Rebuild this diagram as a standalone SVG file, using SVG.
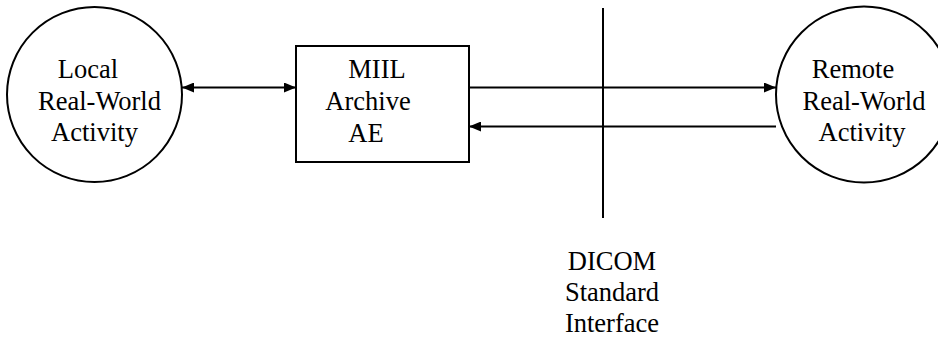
<svg xmlns="http://www.w3.org/2000/svg" width="938" height="339" viewBox="0 0 938 339">
<style>
.s{fill:none;stroke:#000;stroke-width:2}
.t{font-family:"Liberation Serif","Times New Roman",serif;font-size:26.5px;fill:#000;text-anchor:middle}
</style>
<defs>
<marker id="ah" viewBox="0 0 12 10" refX="12" refY="5" markerWidth="12" markerHeight="10" markerUnits="userSpaceOnUse" orient="auto-start-reverse">
<path d="M0,0 L12,5 L0,10 Z" fill="#000"/>
</marker>
</defs>
<rect width="938" height="339" fill="#fff"/>
<g id="local">
<circle class="s" cx="94.5" cy="94.5" r="87.5"/>
<text class="t" x="88" y="78">Local</text>
<text class="t" x="99.5" y="110">Real-World</text>
<text class="t" x="94.5" y="141">Activity</text>
</g>
<g id="miil">
<rect class="s" x="296" y="46" width="173" height="116"/>
<text class="t" x="377" y="78">MIIL</text>
<text class="t" x="368" y="110">Archive</text>
<text class="t" x="366" y="142">AE</text>
</g>
<g id="remote">
<circle class="s" cx="864" cy="94.5" r="88"/>
<text class="t" x="853" y="78">Remote</text>
<text class="t" x="864" y="110">Real-World</text>
<text class="t" x="862" y="141">Activity</text>
</g>
<g id="interface">
<line class="s" x1="603" y1="8" x2="603" y2="218"/>
<text class="t" x="612" y="270">DICOM</text>
<text class="t" x="612" y="301">Standard</text>
<text class="t" x="612" y="332">Interface</text>
</g>
<g id="connectors">
<line class="s" x1="182" y1="87.5" x2="296" y2="87.5" marker-start="url(#ah)" marker-end="url(#ah)"/>
<line class="s" x1="469" y1="87.5" x2="776" y2="87.5" marker-end="url(#ah)"/>
<line class="s" x1="776" y1="126.5" x2="469" y2="126.5" marker-end="url(#ah)"/>
</g>
</svg>
